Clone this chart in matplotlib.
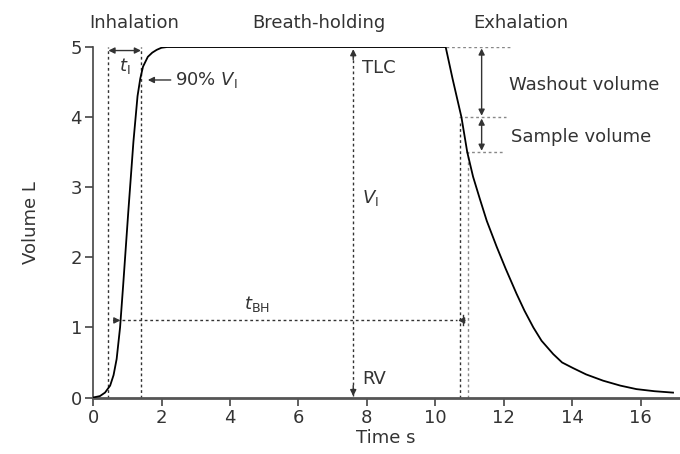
import numpy as np
import matplotlib
matplotlib.use("Agg")
from matplotlib import pyplot as plt

plt.rcParams["font.family"] = ["DejaVu Sans"]
plt.rcParams["mathtext.fontset"] = "custom"
plt.rcParams["mathtext.it"] = "DejaVu Sans:italic"
plt.rcParams["mathtext.rm"] = "DejaVu Sans"

# curve (time s, volume L)
tiempo = [0, 0.2, 0.35, 0.5, 0.6, 0.69, 0.79, 0.88, 1.03, 1.18, 1.3, 1.38, 1.46,
          1.6, 1.73, 1.86, 2.0, 2.16, 10.3, 10.5, 10.76, 10.93, 11.1, 11.3, 11.5,
          11.79, 12.05, 12.37, 12.6, 12.86, 13.1, 13.44, 13.7, 14.02, 14.4, 14.9,
          15.4, 15.87, 16.4, 16.94]
volumen = [0, 0.02, 0.07, 0.17, 0.32, 0.55, 1.0, 1.6, 2.65, 3.65, 4.3, 4.55, 4.72,
           4.86, 4.92, 4.96, 4.99, 5.0, 5.0, 4.55, 4.0, 3.5, 3.15, 2.83, 2.52,
           2.15, 1.84, 1.48, 1.24, 1.0, 0.81, 0.62, 0.5, 0.42, 0.33, 0.24,
           0.17, 0.12, 0.09, 0.07]

fases = ["Inhalation", "Breath-holding", "Exhalation"]
fases_t = [1.2, 6.6, 12.5]

xticks = [0, 2, 4, 6, 8, 10, 12, 14, 16]
yticks = [0, 1, 2, 3, 4, 5]

t_inicio = 0.45     # start of inhalation
t_90 = 1.4          # 90% VI reached
t_fin_bh = 10.72    # end of breath-hold (tBH end)
t_muestra = 10.94   # sample start
t_vi = 7.6          # VI arrow position
tlc = 5.0
washout_fin = 4.0
muestra_fin = 3.5
y_tbh = 1.1

gris = "#333333"
fs = 13

fig = plt.figure(figsize=(6.8, 4.54), dpi=100)
ax = fig.add_axes([0.1368, 0.1244, 0.861, 0.772])

ax.plot(tiempo, volumen, color="black", lw=1.3, zorder=5)

dot = dict(color=gris, lw=1.0, linestyle=(0, (2, 2)))
dotl = dict(color="#888888", lw=1.0, linestyle=(0, (2, 2)))

def cabeza(x, y, dx, dy):
    ax.annotate("", xy=(x, y), xytext=(x - dx, y - dy),
                arrowprops=dict(arrowstyle="-|>", color=gris, lw=1.0,
                                mutation_scale=9, shrinkA=0, shrinkB=0),
                annotation_clip=False)

# inhalation dotted lines and tI
ax.plot([t_inicio, t_inicio], [0, tlc], **dot)
ax.plot([t_90, t_90], [0, tlc], **dot)
ax.annotate("", xy=(t_inicio, 4.95), xytext=(t_90, 4.95),
            arrowprops=dict(arrowstyle="<|-|>", color=gris, lw=1.0,
                            mutation_scale=9, shrinkA=0, shrinkB=0))
ax.text(0.93, 4.73, r"$t_{\mathrm{I}}$", fontsize=fs, color=gris,
        ha="center", va="center")

# 90% VI
ax.annotate("", xy=(1.6, 4.53), xytext=(2.27, 4.53),
            arrowprops=dict(arrowstyle="-|>", color=gris, lw=1.0,
                            mutation_scale=9, shrinkA=0, shrinkB=0))
ax.text(2.4, 4.53, r"90% $V_{\mathrm{I}}$", fontsize=fs, color=gris,
        ha="left", va="center")

# VI arrow
ax.plot([t_vi, t_vi], [0.02, 4.95], **dot)
cabeza(t_vi, 4.97, 0, 0.15)
cabeza(t_vi, 0.02, 0, -0.15)
ax.text(t_vi + 0.25, 4.7, "TLC", fontsize=fs, color=gris, ha="left", va="center")
ax.text(t_vi + 0.25, 0.27, "RV", fontsize=fs, color=gris, ha="left", va="center")
ax.text(t_vi + 0.25, 2.84, r"$V_{\mathrm{I}}$", fontsize=fs, color=gris,
        ha="left", va="center")

# tBH arrow
ax.plot([0.85, t_fin_bh - 0.1], [y_tbh, y_tbh], **dot)
cabeza(0.8, y_tbh, 0.2, 0)
cabeza(t_fin_bh - 0.06, y_tbh, -0.2, 0)
ax.plot([t_fin_bh + 0.09, t_fin_bh + 0.09], [1.04, 1.18], color=gris, lw=1.0)
ax.text(4.8, 1.33, r"$t_{\mathrm{BH}}$", fontsize=fs, color=gris,
        ha="center", va="center")

# exhalation lines
ax.plot([t_fin_bh, t_fin_bh], [0, 3.92], **dot)
ax.plot([t_muestra, t_muestra], [0, muestra_fin], **dotl)
ax.plot([10.3, 12.17], [tlc, tlc], **dotl)
ax.plot([10.7, 12.06], [washout_fin, washout_fin], **dotl)
ax.plot([10.9, 11.97], [muestra_fin, muestra_fin], **dotl)
ax.annotate("", xy=(11.35, tlc - 0.02), xytext=(11.35, washout_fin + 0.02),
            arrowprops=dict(arrowstyle="<|-|>", color=gris, lw=1.0,
                            mutation_scale=9, shrinkA=0, shrinkB=0))
ax.annotate("", xy=(11.35, washout_fin - 0.02), xytext=(11.35, muestra_fin + 0.02),
            arrowprops=dict(arrowstyle="<|-|>", color=gris, lw=1.0,
                            mutation_scale=9, shrinkA=0, shrinkB=0))
ax.text(12.15, 4.46, "Washout volume", fontsize=fs, color=gris, ha="left", va="center")
ax.text(12.2, 3.72, "Sample volume", fontsize=fs, color=gris, ha="left", va="center")

for f, x in zip(fases, fases_t):
    ax.text(x, 5.34, f, fontsize=fs, color=gris, ha="center", va="center",
            clip_on=False)

ax.set_xlim(0, 17.1)
ax.set_ylim(0, 5)
ax.set_xticks(xticks)
ax.set_yticks(yticks)
ax.spines["top"].set_visible(False)
ax.spines["right"].set_visible(False)
ax.spines["left"].set_color("#444444")
ax.spines["left"].set_linewidth(1.2)
ax.spines["bottom"].set_color("#555555")
ax.spines["bottom"].set_linewidth(2.0)
ax.tick_params(axis="both", direction="out", length=6, width=1.2, colors="#444444",
               labelsize=fs, labelcolor=gris, pad=2)
ax.set_xlabel("Time s", fontsize=fs, color=gris, labelpad=2)
ax.set_ylabel("Volume L", fontsize=fs, color=gris, labelpad=22)

plt.savefig("out.png", dpi=100)
